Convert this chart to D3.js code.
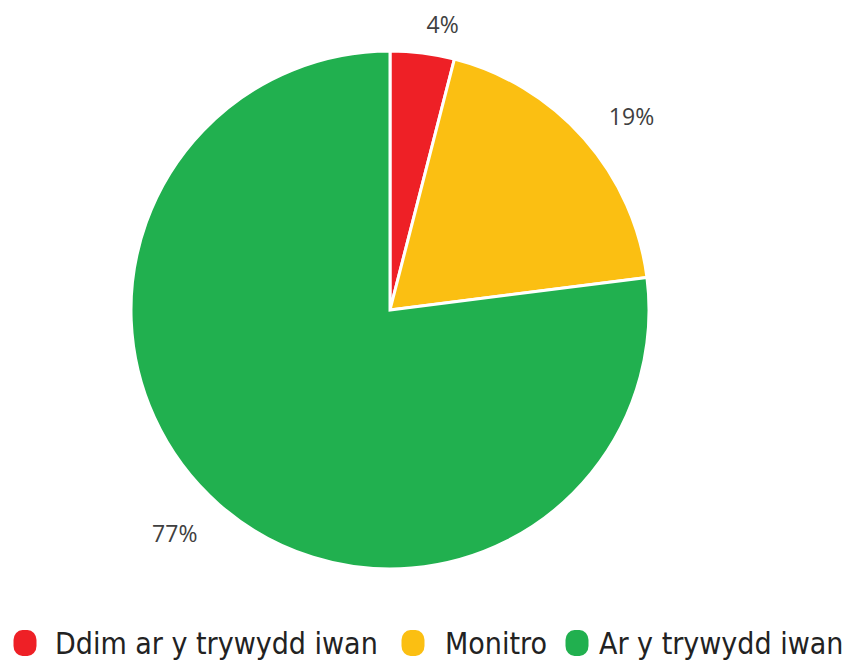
<!DOCTYPE html>
<html>
<head>
<meta charset="utf-8">
<script src="https://cdn.jsdelivr.net/npm/d3@7"></script>
<style>
  body { margin: 0; background: #fff; }
</style>
</head>
<body>
<div id="chart"></div>
<script>
const categories = ["Ddim ar y trywydd iwan", "Monitro", "Ar y trywydd iwan"]
const values = [4, 19, 77]
const colors = ["#EE2026", "#FBBF12", "#21B04F"]

const width = 854, height = 663
const cx = 390, cy = 310, radius = 259

let svg = d3.select("#chart")
  .append("svg")
  .attr("width", width)
  .attr("height", height)

let pie = d3.pie().sort(null).value(d => d)
let arcs = pie(values)

let arc = d3.arc().innerRadius(0).outerRadius(radius)
// labels sit a little outside the rim, turned slightly clockwise
let labelArc = d3.arc().innerRadius(310).outerRadius(310)
  .startAngle(d => d.startAngle + 0.045)
  .endAngle(d => d.endAngle + 0.045)

let g = svg.append("g").attr("transform", `translate(${cx},${cy})`)

g.selectAll("path")
  .data(arcs)
  .join("path")
  .attr("d", arc)
  .attr("fill", (d, i) => colors[i])
  .attr("stroke", "#fff")
  .attr("stroke-width", 3)
  .attr("stroke-linejoin", "miter")

g.selectAll("text.lbl")
  .data(arcs)
  .join("text")
  .attr("class", "lbl")
  .attr("x", d => labelArc.centroid(d)[0])
  .attr("y", d => Math.max(labelArc.centroid(d)[1], 24 - cy))
  .attr("text-anchor", "middle")
  .attr("dominant-baseline", "central")
  .style("font-family", "'Open Sans', sans-serif")
  .style("font-size", "23px")
  .attr("fill", "#404040")
  .text(d => d.data + "%")

// legend
let legend = svg.append("g")
let markX = [25, 413, 577]
let textX = [55, 445, 599]
categories.forEach((c, i) => {
  legend.append("rect")
    .attr("x", markX[i] - 11.5)
    .attr("y", 630)
    .attr("width", 23)
    .attr("height", 26)
    .attr("rx", 9)
    .attr("ry", 10)
    .attr("fill", colors[i])
  legend.append("text")
    .attr("x", textX[i])
    .attr("y", 654)
    .style("font-family", "'DejaVu Sans Condensed', 'DejaVu Sans', sans-serif")
    .style("font-size", "30px")
    .attr("fill", "#222")
    .text(c)
})
</script>
</body>
</html>
